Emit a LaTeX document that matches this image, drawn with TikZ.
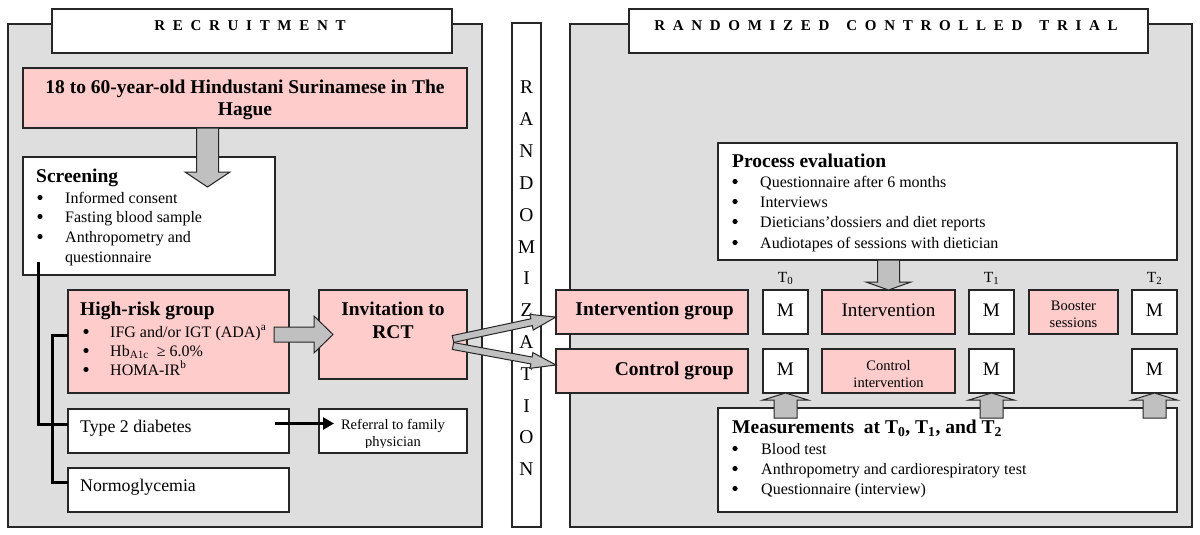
\documentclass[tikz,border=0pt]{standalone}
\usepackage{fontspec}
\setmainfont{Liberation Serif}
\usetikzlibrary{calc,arrows.meta}
\definecolor{panelgray}{HTML}{DEDEDE}
\definecolor{pinkc}{HTML}{FFCCCC}
\definecolor{arrgray}{HTML}{C0C0C0}
\definecolor{linec}{HTML}{262626}
\newcommand\lsp{\kern7.7pt}
\newcommand\wsp{\kern17pt}
\newcommand\bitem[2][29pt]{\hspace*{#1}#2}
% #1 name, #2 from, #3 to, #4 shaft half width, #5 head half width, #6 head length
\newcommand\blockarrow[6]{%
  \coordinate (#1h) at ($(#3)!#6!(#2)$);
  \draw[garrow] ($(#2)!#4!90:(#3)$) -- ($(#1h)!#4!90:(#3)$) -- ($(#1h)!#5!90:(#3)$)
    -- (#3) -- ($(#1h)!#5!-90:(#3)$) -- ($(#1h)!#4!-90:(#3)$) -- ($(#2)!#4!-90:(#3)$) -- cycle;
}
\tikzset{
  box/.style={draw=linec, line width=1.2pt, fill=white, inner sep=0pt, outer sep=0pt, anchor=north west},
  pinkbox/.style={box, fill=pinkc},
  panel/.style={box, fill=panelgray, line width=1.5pt},
  garrow/.style={draw=linec, line width=1pt, fill=arrgray, line join=miter},
  blk/.style={line width=3pt, draw=black},
  dot/.style={fill=black},
  hd/.style={font=\fontsize{19.5}{22}\selectfont\bfseries, inner sep=0pt},
  bodyt/.style={font=\fontsize{16}{19}\selectfont, inner sep=0pt},
  midt/.style={font=\fontsize{17.8}{20}\selectfont, inner sep=0pt},
  smallt/.style={font=\fontsize{14.5}{17}\selectfont, inner sep=0pt},
  bigt/.style={font=\fontsize{19.2}{22}\selectfont, inner sep=0pt},
  ttl/.style={font=\fontsize{15}{18}\selectfont\bfseries, inner sep=0pt},
  tlab/.style={font=\fontsize{15.5}{18}\selectfont, inner sep=0pt},
}
\begin{document}
\begin{tikzpicture}[x=1pt, y=-1pt]
\useasboundingbox (0,0) rectangle (1200,535);
\fill[white] (0,0) rectangle (1200,535);

% panels
\node[panel, minimum width=474pt, minimum height=503pt] (lpanel) at (8,24) {};
\node[panel, minimum width=622pt, minimum height=503pt] (rpanel) at (570,24) {};
\node[box, line width=1.5pt, minimum width=29pt, minimum height=504pt] (rndcol) at (512,23) {};
\node[box, line width=1.5pt, minimum width=400pt, minimum height=44pt] (ltitle) at (52,9) {};
\node[box, line width=1.5pt, minimum width=519pt, minimum height=44pt] (rtitle) at (629,9) {};

% left boxes
\node[pinkbox, minimum width=444pt, minimum height=60pt] (pop) at (23,68) {};
\node[box, minimum width=252pt, minimum height=118pt] (screen) at (23,157) {};
\node[pinkbox, minimum width=221pt, minimum height=103pt] (high) at (68,290) {};
\node[pinkbox, minimum width=148pt, minimum height=89pt] (invite) at (319,290) {};
\node[box, minimum width=221pt, minimum height=44pt] (t2d) at (68,409) {};
\node[box, minimum width=148pt, minimum height=44pt] (refer) at (319,409) {};
\node[box, minimum width=221pt, minimum height=44pt] (normo) at (68,468) {};

% right boxes
\node[box, minimum width=459pt, minimum height=117pt] (proc) at (718,143) {};
\node[box, minimum width=459pt, minimum height=104pt] (meas) at (718,408) {};
\node[pinkbox, minimum width=192pt, minimum height=44pt] (igroup) at (556,290) {};
\node[pinkbox, minimum width=192pt, minimum height=44pt] (cgroup) at (556,349) {};
\node[box, minimum width=45pt, minimum height=44pt] (m0a) at (763,290) {};
\node[box, minimum width=45pt, minimum height=44pt] (m0b) at (763,349) {};
\node[pinkbox, minimum width=133pt, minimum height=44pt] (interv) at (822,290) {};
\node[pinkbox, minimum width=133pt, minimum height=44pt] (cinterv) at (822,349) {};
\node[box, minimum width=45pt, minimum height=44pt] (m1a) at (969,290) {};
\node[box, minimum width=45pt, minimum height=44pt] (m1b) at (969,349) {};
\node[pinkbox, minimum width=89pt, minimum height=44pt] (booster) at (1029,290) {};
\node[box, minimum width=45pt, minimum height=44pt] (m2a) at (1132,290) {};
\node[box, minimum width=45pt, minimum height=44pt] (m2b) at (1132,349) {};

% titles
\node[ttl, anchor=base] (ltitletxt) at (250,31) {R\lsp E\lsp C\lsp R\lsp U\lsp I\lsp T\lsp M\lsp E\lsp N\lsp T};
\node[ttl, anchor=base] (rtitletxt) at (886,31) {R\lsp A\lsp N\lsp D\lsp O\lsp M\lsp I\lsp Z\lsp E\lsp D\wsp C\lsp O\lsp N\lsp T\lsp R\lsp O\lsp L\lsp L\lsp E\lsp D\wsp T\lsp R\lsp I\lsp A\lsp L};

% randomization letters
\foreach \l [count=\i from 0] in {R,A,N,D,O,M,I,Z,A,T,I,O,N}
  \node[font=\fontsize{19.5}{22}\selectfont, inner sep=0pt, anchor=base] (rz\i) at (526.5,{94+31.8*\i}) {\l};

% bullets
\foreach \bx/\by in {40/203,40/222,40/242, 86/337,86/356,86/375,
                     735/187,735/207,735/227,735/248, 735/454,735/474,735/494}
  \fill[dot] (\bx,{\by-5.5}) circle (2.6pt);

% left texts
\node[hd, anchor=base] (poptxt1) at (245,93) {18 to 60-year-old Hindustani Surinamese in The};
\node[hd, anchor=base] (poptxt2) at (245,115) {Hague};
\node[hd, anchor=base west] (scrhd) at (36,182) {Screening};
\node[bodyt, anchor=base west] (scr1) at (36,203) {\bitem{Informed consent}};
\node[bodyt, anchor=base west] (scr2) at (36,222) {\bitem{Fasting blood sample}};
\node[bodyt, anchor=base west] (scr3) at (36,242) {\bitem{Anthropometry and}};
\node[bodyt, anchor=base west] (scr4) at (65,262) {questionnaire};

\node[hd, anchor=base west] (highhd) at (80,315) {High-risk group};
\node[bodyt, anchor=base west] (high1) at (82,337) {\bitem[28pt]{IFG and/or IGT (ADA)\textsuperscript{a}}};
\node[bodyt, anchor=base west] (high2) at (82,356) {\bitem[28pt]{Hb\textsubscript{A1c} \ ≥ 6.0\%}};
\node[bodyt, anchor=base west] (high3) at (82,375) {\bitem[28pt]{HOMA-IR\textsuperscript{b}}};

\node[hd, anchor=base] (inv1) at (393,315) {Invitation to};
\node[hd, anchor=base] (inv2) at (393,338) {RCT};

\node[midt, anchor=base west] (t2dtxt) at (80,432) {Type 2 diabetes};
\node[midt, anchor=base west] (normotxt) at (80,491) {Normoglycemia};
\begin{scope}
  \clip (319,409) rectangle (467,447);
  \node[smallt, anchor=base] (ref1) at (393,429) {Referral to family};
  \node[smallt, anchor=base] (ref2) at (393,446) {physician};
\end{scope}

% right texts
\node[hd, anchor=base west] (prochd) at (732,167) {Process evaluation};
\node[bodyt, anchor=base west] (proc1) at (731,187) {\bitem{Questionnaire after 6 months}};
\node[bodyt, anchor=base west] (proc2) at (731,207) {\bitem{Interviews}};
\node[bodyt, anchor=base west] (proc3) at (731,227) {\bitem{Dieticians’dossiers and diet reports}};
\node[bodyt, anchor=base west] (proc4) at (731,248) {\bitem{Audiotapes of sessions with dietician}};

\node[hd, anchor=base west] (meashd) at (732,433) {Measurements\ \ at T\textsubscript{0}, T\textsubscript{1}, and T\textsubscript{2}};
\node[bodyt, anchor=base west] (meas1) at (731,454) {\bitem[30pt]{Blood test}};
\node[bodyt, anchor=base west] (meas2) at (731,474) {\bitem[30pt]{Anthropometry and cardiorespiratory test}};
\node[bodyt, anchor=base west] (meas3) at (731,494) {\bitem[30pt]{Questionnaire (interview)}};

\begin{scope}
  \clip (740,262) rectangle (1190,286);
  \node[tlab, anchor=base] (t0) at (785.5,282) {T\textsubscript{0}};
  \node[tlab, anchor=base] (t1) at (991.5,282) {T\textsubscript{1}};
  \node[tlab, anchor=base] (t2) at (1154.5,282) {T\textsubscript{2}};
\end{scope}

\node[hd, anchor=base east] (igtxt) at (734,315) {Intervention group};
\node[hd, anchor=base east] (cgtxt) at (734,375) {Control group};
\node[bigt, anchor=base] (m0atxt) at (785.5,316) {M};
\node[bigt, anchor=base] (m0btxt) at (785.5,375) {M};
\node[bigt, anchor=base] (m1atxt) at (991.5,316) {M};
\node[bigt, anchor=base] (m1btxt) at (991.5,375) {M};
\node[bigt, anchor=base] (m2atxt) at (1154.5,316) {M};
\node[bigt, anchor=base] (m2btxt) at (1154.5,375) {M};
\node[bigt, anchor=base] (intervtxt) at (888.5,316) {Intervention};
\node[smallt, anchor=base] (ci1) at (888.5,370) {Control};
\node[smallt, anchor=base] (ci2) at (888.5,387) {intervention};
\node[smallt, anchor=base] (bo1) at (1073.5,310) {Booster};
\node[smallt, anchor=base] (bo2) at (1073.5,327) {sessions};

% black connectors
\coordinate (l1top) at (38,262);
\coordinate (l2top) at (52,335);
\coordinate (l2bot) at (52,482);
\coordinate (t2dl) at (t2d.west |- 0,424);
\coordinate (highl) at (high.west |- l2top);
\coordinate (normol) at (normo.west |- l2bot);
\draw[blk] (l1top) |- (t2dl);
\draw[blk] (highl) -| (l2bot) -- (normol);
\coordinate (bas) at (275,423.5);
\coordinate (bae) at (334,423.5);
\draw[blk, -{Triangle[length=11pt,width=12pt]}] (bas) -- (bae);

% gray block arrows
\coordinate (a1e) at (207.5,187);
\coordinate (a1s) at (pop.south -| a1e);
\blockarrow{a1}{a1s}{a1e}{11pt}{22.5pt}{15pt}
\coordinate (a2s) at (274,334.5);
\coordinate (a2e) at (333,334.5);
\blockarrow{a2}{a2s}{a2e}{7.5pt}{18.5pt}{19pt}
\coordinate (a3s) at (453,339);
\coordinate (a3e) at (igroup.west |- 0,317);
\blockarrow{a3}{a3s}{a3e}{3.5pt}{8pt}{25pt}
\coordinate (a4s) at (453,346);
\coordinate (a4e) at (cgroup.west |- 0,365);
\blockarrow{a4}{a4s}{a4e}{3.5pt}{8pt}{25pt}
\coordinate (a5s) at (proc.south -| interv.north);
\blockarrow{a5}{a5s}{interv.north}{11pt}{22.5pt}{8pt}
\coordinate (u0s) at (m0b.south |- 0,418);
\blockarrow{u0}{u0s}{m0b.south}{11.5pt}{22.5pt}{7pt}
\coordinate (u1s) at (m1b.south |- 0,418);
\blockarrow{u1}{u1s}{m1b.south}{11.5pt}{22.5pt}{7pt}
\coordinate (u2s) at (m2b.south |- 0,418);
\blockarrow{u2}{u2s}{m2b.south}{11.5pt}{22.5pt}{7pt}
\end{tikzpicture}
\end{document}
